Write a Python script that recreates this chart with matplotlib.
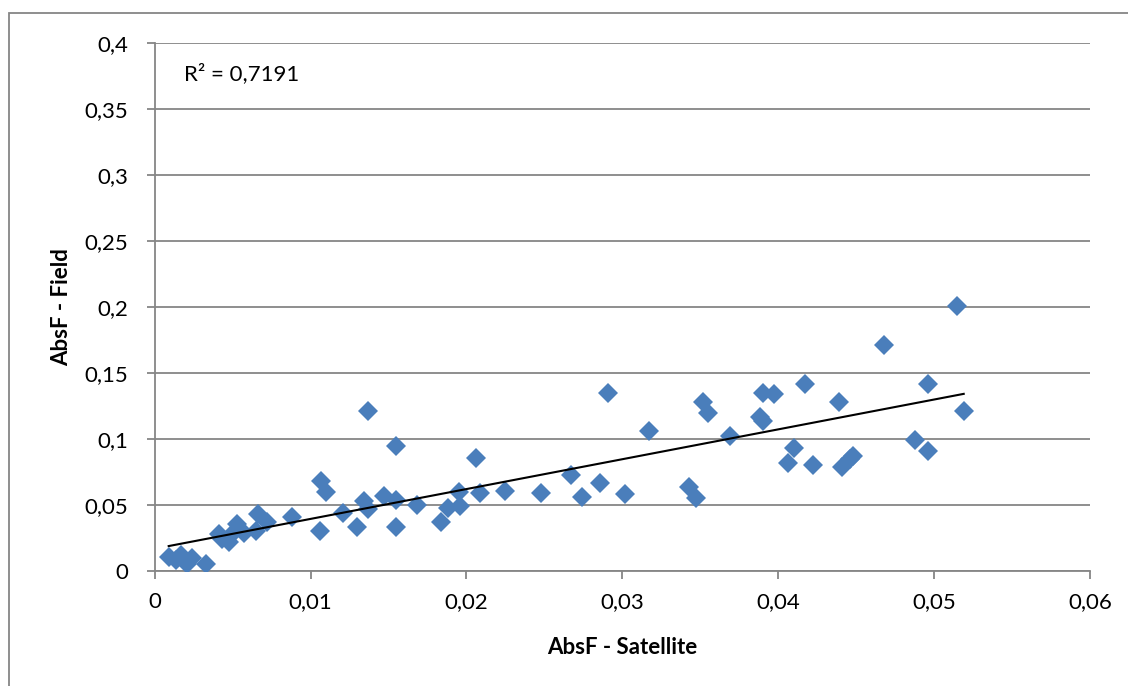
import numpy as np
import matplotlib.pyplot as plt
from matplotlib.patches import Rectangle

plt.rcParams['font.family'] = ['Lato', 'DejaVu Sans']

# AbsF values, satellite vs field
absf_satellite = [0.0009, 0.0014, 0.0017, 0.0021, 0.0024, 0.0033,
                  0.0041, 0.0043, 0.0050, 0.0048, 0.0053, 0.0057, 0.0066, 0.0065, 0.0072, 0.0088,
                  0.0107, 0.0106, 0.0110, 0.0121, 0.0130, 0.0134, 0.0137, 0.0137, 0.0147,
                  0.0155, 0.0155, 0.0155, 0.0168, 0.0184, 0.0188, 0.0195, 0.0196, 0.0206,
                  0.0209, 0.0225, 0.0248, 0.0267, 0.0274, 0.0286, 0.0291, 0.0302, 0.0317,
                  0.0343, 0.0347, 0.0352, 0.0355, 0.0369, 0.0388, 0.0390, 0.0390, 0.0397,
                  0.0406, 0.0410, 0.0417, 0.0422, 0.0439, 0.0441, 0.0446, 0.0448, 0.0468,
                  0.0488, 0.0496, 0.0496, 0.0515, 0.0519]
absf_field = [0.011, 0.008, 0.012, 0.005, 0.010, 0.005,
              0.028, 0.024, 0.029, 0.022, 0.036, 0.029, 0.043, 0.030, 0.037, 0.041,
              0.068, 0.030, 0.060, 0.044, 0.033, 0.053, 0.047, 0.121, 0.057,
              0.054, 0.095, 0.033, 0.050, 0.037, 0.048, 0.060, 0.049, 0.086,
              0.059, 0.061, 0.059, 0.073, 0.056, 0.067, 0.135, 0.058, 0.106,
              0.064, 0.055, 0.128, 0.120, 0.102, 0.117, 0.114, 0.135, 0.134,
              0.082, 0.093, 0.142, 0.080, 0.128, 0.079, 0.085, 0.087, 0.171,
              0.099, 0.091, 0.142, 0.201, 0.121]
r2_label = 'R² = 0,7191'

x_ticks = [0, 0.01, 0.02, 0.03, 0.04, 0.05, 0.06]
y_ticks = [0, 0.05, 0.1, 0.15, 0.2, 0.25, 0.3, 0.35, 0.4]

grey = '#868686'
fs = 16

fig = plt.figure(figsize=(11.28, 6.86), dpi=100)
ax = fig.add_axes([0.1371, 0.1676, 0.8292, 0.7697])

# chart frame, runs off the right and bottom edge
fig.patches.append(Rectangle((0.008, -0.1), 1.2, 0.1 + 0.981, transform=fig.transFigure,
                             fill=False, edgecolor=grey, linewidth=1.3))

ax.plot(absf_satellite, absf_field, linestyle='none', marker='D', markersize=10,
        color='#4a7ebb', markeredgewidth=0, zorder=3)

# linear trend line
x = np.array(absf_satellite)
y = np.array(absf_field)
slope, intercept = np.polyfit(x, y, 1)
xl = np.array([x.min(), x.max()])
ax.plot(xl, slope * xl + intercept, color='black', linewidth=1.5, zorder=4)

ax.text(0.0019, 0.377, r2_label, fontsize=fs, va='center', ha='left')

ax.set_xlim(0, 0.06)
ax.set_ylim(0, 0.4)
ax.set_xticks(x_ticks)
ax.set_yticks(y_ticks)
ax.set_xticklabels([f'{t:g}'.replace('.', ',') for t in x_ticks])
ax.set_yticklabels([f'{t:g}'.replace('.', ',') for t in y_ticks])
ax.tick_params(axis='both', direction='out', length=6, width=1.3, color=grey, labelsize=fs)
ax.tick_params(axis='x', pad=9)
ax.tick_params(axis='y', pad=13)

ax.grid(axis='y', color=grey, linewidth=1.3)
ax.set_axisbelow(True)
for side in ['top', 'right']:
    ax.spines[side].set_visible(False)
for side in ['left', 'bottom']:
    ax.spines[side].set_color(grey)
    ax.spines[side].set_linewidth(1.3)

ax.set_xlabel('AbsF - Satellite', fontsize=fs, fontweight='bold', va='center')
ax.set_ylabel('AbsF - Field', fontsize=fs, fontweight='bold', va='center')
ax.xaxis.set_label_coords(0.5, -0.144)
ax.yaxis.set_label_coords(-0.099, 0.5)

plt.savefig('out.png', dpi=100)
